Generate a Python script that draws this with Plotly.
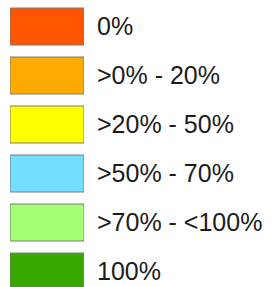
import plotly.graph_objects as go

labels = ["0%", ">0% - 20%", ">20% - 50%", ">50% - 70%", ">70% - <100%", "100%"]
colors = ["#FF5500", "#FFAA00", "#FFFF00", "#73DFFF", "#A3FF73", "#38A800"]
sizes = [1, 1, 1, 1, 1, 1]

fig = go.Figure(
    go.Bar(
        x=sizes,
        y=labels,
        orientation="h",
        marker=dict(color=colors, line=dict(color="#7a7a7a", width=1)),
        hoverinfo="skip",
        showlegend=False,
    )
)

fig.update_layout(
    width=273,
    height=287,
    margin=dict(l=10, r=189, t=0, b=0),
    paper_bgcolor="white",
    plot_bgcolor="white",
    bargap=0.245,
    font=dict(family="Liberation Sans, Arial, sans-serif", size=25, color="#1c1c1c"),
    xaxis=dict(range=[0, 1], visible=False, fixedrange=True),
    yaxis=dict(
        type="category",
        categoryorder="array",
        categoryarray=labels,
        range=[5.316, -0.541],
        side="right",
        showgrid=False,
        zeroline=False,
        showline=False,
        ticks="",
        ticklabelstandoff=12,
        fixedrange=True,
    ),
)

fig.write_html(
    "out.html",
    config={"displayModeBar": False},
    post_script="document.body.style.margin='0';document.body.style.overflow='hidden';",
)
